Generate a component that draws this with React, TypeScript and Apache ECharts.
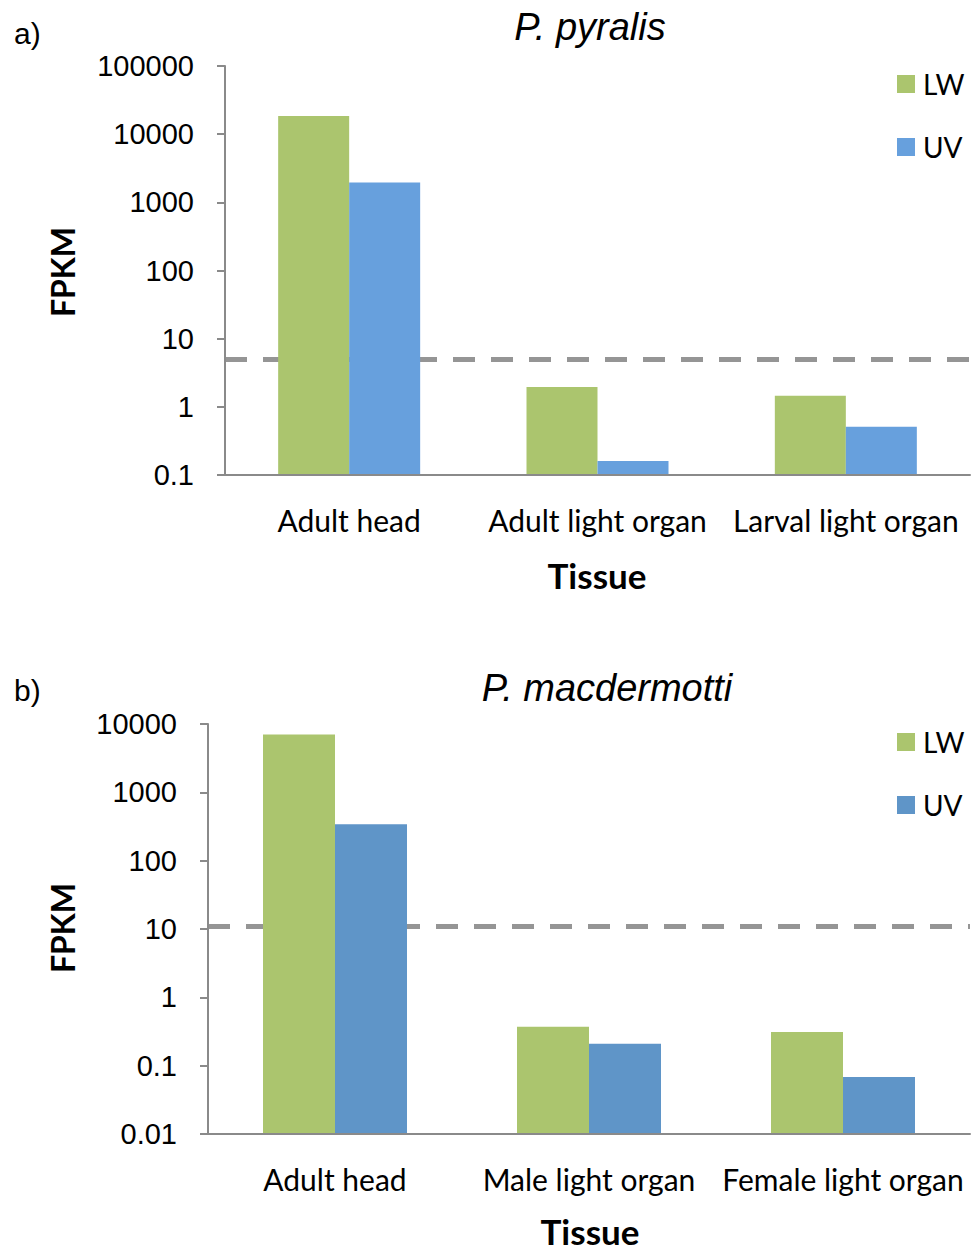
import React, { useEffect, useRef } from "react";
import * as echarts from "echarts";

const categoriesA = ["Adult head", "Adult light organ", "Larval light organ"];
const lwA = [18500, 1.95, 1.45];
const uvA = [1950, 0.16, 0.51];
const thresholdA = 5;
const yMinA = 0.1;
const yMaxA = 100000;

const categoriesB = ["Adult head", "Male light organ", "Female light organ"];
const lwB = [7000, 0.37, 0.31];
const uvB = [340, 0.21, 0.068];
const thresholdB = 11;
const yMinB = 0.01;
const yMaxB = 10000;

const GREEN = "#ABC56E";
const BLUE_A = "#67A0DD";
const BLUE_B = "#5F95C8";
const AXIS = "#8A8A8A";
const DASH = "#959595";

function barSeries(name: string, values: number[], color: string, min: number, bw: number, side: number) {
  return {
    name,
    type: "custom",
    data: values.map((v, i) => [i, v]),
    encode: { x: 0, y: 1 },
    itemStyle: { color },
    z: 10,
    renderItem: (params: any, api: any) => {
      const idx = api.value(0);
      const val = api.value(1);
      const top = api.coord([idx, val]);
      const base = api.coord([idx, min]);
      const x = side < 0 ? top[0] - bw : top[0];
      return {
        type: "rect",
        shape: { x, y: top[1], width: bw, height: base[1] - top[1] },
        style: { fill: color },
      };
    },
  };
}

function buildOption(p: {
  letter: string;
  title: string;
  titleX: number;
  titleY: number;
  letterY: number;
  cats: string[];
  lw: number[];
  uv: number[];
  blue: string;
  threshold: number;
  min: number;
  max: number;
  grid: { left: number; top: number; width: number; height: number };
  legendTop: number;
  barWidth: number;
  fpkmX: number;
  fpkmY: number;
  tissueX: number;
  tissueY: number;
}) {
  const g = p.grid;
  return {
    animation: false,
    grid: { left: g.left, top: g.top, width: g.width, height: g.height, containLabel: false },
    legend: {
      orient: "vertical",
      left: 892,
      top: p.legendTop,
      itemWidth: 18,
      itemHeight: 18,
      itemGap: 35,
      icon: "rect",
      data: ["LW", "UV"],
      textStyle: { fontSize: 28, fontFamily: "Lato", color: "#000", lineHeight: 28, padding: [0, 0, 0, 3] },
    },
    xAxis: {
      type: "category",
      data: p.cats,
      boundaryGap: true,
      axisLine: { lineStyle: { color: AXIS, width: 2 } },
      axisTick: { length: 10, lineStyle: { color: AXIS, width: 2 } },
      axisLabel: { fontSize: 30, fontFamily: "Lato", color: "#000", margin: 30, interval: 0 },
      z: 12,
    },
    yAxis: {
      type: "log",
      logBase: 10,
      min: p.min,
      max: p.max,
      splitNumber: 6,
      axisLine: { show: true, lineStyle: { color: AXIS, width: 2 } },
      axisTick: { show: true, length: 8, lineStyle: { color: AXIS, width: 2 } },
      splitLine: { show: false },
      axisLabel: {
        fontSize: 29,
        fontFamily: "Liberation Sans",
        color: "#000",
        margin: 31,
        formatter: (v: number) => String(+Number(v).toPrecision(6)),
      },
      z: 12,
    },
    series: [
      {
        name: "threshold",
        type: "line",
        data: [],
        z: 1,
        markLine: {
          silent: true,
          z: 1,
          symbol: "none",
          label: { show: false },
          lineStyle: { color: DASH, width: 5, type: [22, 16] },
          data: [{ yAxis: p.threshold }],
        },
      },
      barSeries("LW", p.lw, GREEN, p.min, p.barWidth, -1),
      barSeries("UV", p.uv, p.blue, p.min, p.barWidth, 1),
    ],
    graphic: [
      {
        type: "text",
        left: 14,
        top: p.letterY - 17,
        style: { text: p.letter, fontSize: 30, fontFamily: "Liberation Sans", fill: "#000" },
      },
      {
        type: "text",
        x: p.titleX,
        y: p.titleY,
        style: {
          text: p.title,
          fontSize: 38,
          fontStyle: "italic",
          fontFamily: "Liberation Sans",
          fill: "#000",
          textAlign: "center",
          textVerticalAlign: "middle",
        },
      },
      {
        type: "text",
        x: p.fpkmX,
        y: p.fpkmY,
        rotation: Math.PI / 2,
        style: {
          text: "FPKM",
          fontSize: 32,
          fontWeight: "bold",
          fontFamily: "Lato",
          fill: "#000",
          textAlign: "center",
          textVerticalAlign: "middle",
        },
      },
      {
        type: "text",
        x: p.tissueX,
        y: p.tissueY,
        style: {
          text: "Tissue",
          fontSize: 35,
          fontWeight: "bold",
          fontFamily: "Lato",
          fill: "#000",
          textAlign: "center",
          textVerticalAlign: "middle",
        },
      },
    ],
  };
}

function Panel({ option, top, height }: { option: any; top: number; height: number }) {
  const ref = useRef<HTMLDivElement>(null);
  useEffect(() => {
    if (!ref.current) return;
    const chart = echarts.init(ref.current, undefined, { renderer: "svg" });
    chart.setOption(option);
    return () => chart.dispose();
  }, [option]);
  return <div ref={ref} style={{ position: "absolute", left: 0, top, width: 975, height }} />;
}

const optionA = buildOption({
  letter: "a)",
  title: "P. pyralis",
  titleX: 590,
  titleY: 27,
  letterY: 35,
  cats: categoriesA,
  lw: lwA,
  uv: uvA,
  blue: BLUE_A,
  threshold: thresholdA,
  min: yMinA,
  max: yMaxA,
  grid: { left: 225, top: 66, width: 745, height: 409 },
  legendTop: 65,
  barWidth: 71,
  fpkmX: 62,
  fpkmY: 272,
  tissueX: 597,
  tissueY: 575,
});

const optionB = buildOption({
  letter: "b)",
  title: "P. macdermotti",
  titleX: 607,
  titleY: 62,
  letterY: 66,
  cats: categoriesB,
  lw: lwB,
  uv: uvB,
  blue: BLUE_B,
  threshold: thresholdB,
  min: yMinB,
  max: yMaxB,
  grid: { left: 208, top: 98, width: 762, height: 410 },
  legendTop: 97,
  barWidth: 72,
  fpkmX: 62,
  fpkmY: 302,
  tissueX: 590,
  tissueY: 605,
});

export default function App() {
  useEffect(() => {
    document.body.style.margin = "0";
  }, []);
  return (
    <div style={{ position: "relative", width: 975, height: 1253, background: "#fff" }}>
      <Panel option={optionA} top={0} height={626} />
      <Panel option={optionB} top={626} height={627} />
    </div>
  );
}
